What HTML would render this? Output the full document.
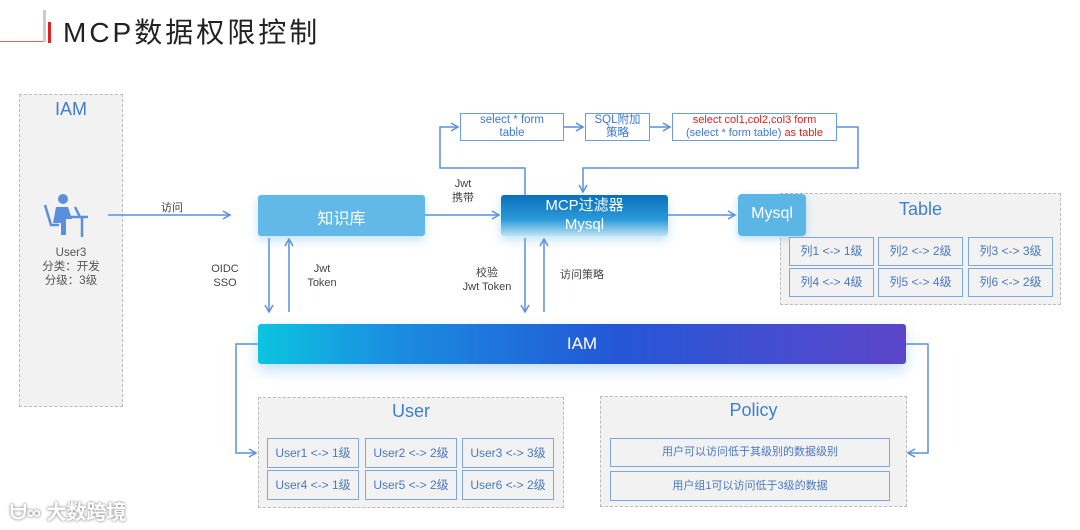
<!DOCTYPE html>
<html><head><meta charset="utf-8"><style>
body{margin:0;width:1080px;height:530px;background:#fff;position:relative;overflow:hidden;font-family:"Liberation Sans","Noto Sans CJK SC",sans-serif}
.a{position:absolute}
.dash{position:absolute;border:1.5px dashed #bbb;background:#f2f2f2;box-sizing:border-box}
.t{position:absolute;text-align:center;white-space:nowrap}
.cell{position:absolute;border:1.5px solid #7fa6de;box-sizing:border-box;color:#4a78c2;font-size:12px;text-align:center;background:#f2f2f2}
.fb{position:absolute;border:1.5px solid #6d9de0;box-sizing:border-box;background:#fff;color:#3f78d0;font-size:11.5px;text-align:center;line-height:13px;padding-top:0}
</style></head><body>
<div class="a" style="left:0;top:41px;width:46px;height:1px;background:#e26060"></div>
<div class="a" style="left:43px;top:10px;width:3px;height:32px;background:#ccc"></div>
<div class="a" style="left:48px;top:22px;width:3px;height:21px;background:#d22"></div>
<div class="t" style="left:63px;top:11px;font-size:28px;color:#222;letter-spacing:3px">MCP数据权限控制</div>

<div class="dash" style="left:19px;top:94px;width:104px;height:313px"></div>
<div class="t" style="left:19px;top:99px;width:104px;font-size:18px;color:#3d7fd0">IAM</div>
<svg class="a" style="left:42px;top:193px" width="48" height="46" viewBox="0 0 48 46">
<circle cx="21" cy="6" r="5" fill="#5b8fde"/>
<path d="M14 14 h12 l4 12 h-6 v16 h-5 v-12 h-8 z" fill="#5b8fde"/>
<path d="M3 12 l6 20 h8" stroke="#5b8fde" stroke-width="2.5" fill="none"/>
<path d="M26 24 h20 M40 24 v20 M33 14 l5 10" stroke="#5b8fde" stroke-width="2.5" fill="none"/>
</svg>
<div class="t" style="left:19px;top:246px;width:104px;font-size:11.5px;color:#555;line-height:14px">User3<br>分类：开发<br>分级：3级</div>

<svg class="a" style="left:0;top:0" width="1080" height="530">
<defs><marker id="ar" markerWidth="10" markerHeight="10" refX="8" refY="5" orient="auto" markerUnits="userSpaceOnUse"><path d="M1 1 L8 5 L1 9" fill="none" stroke="#5b8fde" stroke-width="1.5"/></marker></defs>
<g stroke="#5b8fde" stroke-width="1.5" fill="none">
<line x1="108" y1="215" x2="230" y2="215" marker-end="url(#ar)"/>
<line x1="425" y1="215" x2="499" y2="215" marker-end="url(#ar)"/>
<line x1="668" y1="215" x2="735" y2="215" marker-end="url(#ar)"/>
<polyline points="525,195 525,168 440,168 440,127 458,127" marker-end="url(#ar)"/>
<line x1="564" y1="127" x2="583" y2="127" marker-end="url(#ar)"/>
<line x1="650" y1="127" x2="670" y2="127" marker-end="url(#ar)"/>
<polyline points="837,127 858,127 858,168 583,168 583,192" marker-end="url(#ar)"/>
<line x1="269" y1="238" x2="269" y2="312" marker-end="url(#ar)"/>
<line x1="289" y1="312" x2="289" y2="239" marker-end="url(#ar)"/>
<line x1="525" y1="238" x2="525" y2="312" marker-end="url(#ar)"/>
<line x1="544" y1="312" x2="544" y2="239" marker-end="url(#ar)"/>
<polyline points="258,344 236,344 236,453 256,453" marker-end="url(#ar)"/>
<polyline points="905,344 928,344 928,453 908,453" marker-end="url(#ar)"/>
</g></svg>

<div class="t" style="left:161px;top:199px;font-size:11px;color:#444">访问</div>
<div class="a" style="left:258px;top:195px;width:167px;height:41px;background:#62b8e6;border-radius:3px;box-shadow:0 4px 10px rgba(98,184,230,.4)"></div>
<div class="t" style="left:258px;top:205px;width:167px;font-size:16px;color:#fff">知识库</div>
<div class="t" style="left:445px;top:177px;width:36px;font-size:11px;color:#444;line-height:14px">Jwt<br>携带</div>
<div class="a" style="left:501px;top:195px;width:167px;height:41px;background:linear-gradient(#0a6fbd,#2a9ad8 60%,#bfe3f5);border-radius:3px;box-shadow:0 4px 10px rgba(98,184,230,.4)"></div>
<div class="t" style="left:501px;top:196px;width:167px;font-size:15px;color:#fff;line-height:19px">MCP过滤器<br>Mysql</div>

<div class="fb" style="left:460px;top:113px;width:104px;height:28px">select * form<br>table</div>
<div class="fb" style="left:585px;top:113px;width:65px;height:28px">SQL附加<br>策略</div>
<div class="fb" style="left:672px;top:113px;width:165px;height:28px;font-size:11px"><span style="color:#e02020">select col1,col2,col3 form</span><br>(select * form table) <span style="color:#e02020">as table</span></div>

<div class="dash" style="left:780px;top:193px;width:281px;height:112px"></div>
<div class="t" style="left:780px;top:199px;width:281px;font-size:18px;color:#3d7fd0">Table</div>
<div class="a" style="left:738px;top:194px;width:68px;height:42px;background:#5bb5e5;border-radius:4px;box-shadow:0 3px 8px rgba(91,181,229,.4)"></div>
<div class="t" style="left:738px;top:205px;width:68px;font-size:16px;color:#fff">Mysql</div>
<div class="cell" style="left:789px;top:237px;width:85px;height:29px;line-height:27px">列1 &lt;-&gt; 1级</div>
<div class="cell" style="left:878px;top:237px;width:85px;height:29px;line-height:27px">列2 &lt;-&gt; 2级</div>
<div class="cell" style="left:968px;top:237px;width:85px;height:29px;line-height:27px">列3 &lt;-&gt; 3级</div>
<div class="cell" style="left:789px;top:268px;width:85px;height:29px;line-height:27px">列4 &lt;-&gt; 4级</div>
<div class="cell" style="left:878px;top:268px;width:85px;height:29px;line-height:27px">列5 &lt;-&gt; 4级</div>
<div class="cell" style="left:968px;top:268px;width:85px;height:29px;line-height:27px">列6 &lt;-&gt; 2级</div>

<div class="t" style="left:205px;top:262px;width:40px;font-size:11px;color:#444;line-height:14px">OIDC<br>SSO</div>
<div class="t" style="left:302px;top:262px;width:40px;font-size:11px;color:#444;line-height:14px">Jwt<br>Token</div>
<div class="t" style="left:457px;top:266px;width:60px;font-size:11px;color:#444;line-height:14px">校验<br>Jwt Token</div>
<div class="t" style="left:560px;top:266px;font-size:11px;color:#444">访问策略</div>

<div class="a" style="left:258px;top:324px;width:648px;height:40px;border-radius:3px;background:linear-gradient(90deg,#0bc5e0,#1a8fe0 20%,#2357d6 55%,#4a4bd0 85%,#5c45c8);box-shadow:0 6px 14px rgba(80,160,230,.35)"></div>
<div class="t" style="left:258px;top:334px;width:648px;font-size:17px;color:#fff">IAM</div>

<div class="dash" style="left:258px;top:397px;width:306px;height:111px"></div>
<div class="t" style="left:258px;top:401px;width:306px;font-size:18px;color:#3d7fd0">User</div>
<div class="cell" style="left:267px;top:438px;width:92px;height:30px;line-height:28px">User1 &lt;-&gt; 1级</div>
<div class="cell" style="left:365px;top:438px;width:92px;height:30px;line-height:28px">User2 &lt;-&gt; 2级</div>
<div class="cell" style="left:462px;top:438px;width:92px;height:30px;line-height:28px">User3 &lt;-&gt; 3级</div>
<div class="cell" style="left:267px;top:470px;width:92px;height:30px;line-height:28px">User4 &lt;-&gt; 1级</div>
<div class="cell" style="left:365px;top:470px;width:92px;height:30px;line-height:28px">User5 &lt;-&gt; 2级</div>
<div class="cell" style="left:462px;top:470px;width:92px;height:30px;line-height:28px">User6 &lt;-&gt; 2级</div>

<div class="dash" style="left:600px;top:396px;width:307px;height:111px"></div>
<div class="t" style="left:600px;top:400px;width:307px;font-size:18px;color:#3d7fd0">Policy</div>
<div class="cell" style="left:610px;top:438px;width:280px;height:29px;line-height:27px;font-size:11px">用户可以访问低于其级别的数据级别</div>
<div class="cell" style="left:610px;top:471px;width:280px;height:30px;line-height:28px;font-size:11px">用户组1可以访问低于3级的数据</div>

<div class="t" style="left:10px;top:496px;font-size:20px;color:#fff;font-weight:bold;text-shadow:0 0 3px #999,0 0 2px #aaa">ᗨ∞ 大数跨境</div>
</body></html>
